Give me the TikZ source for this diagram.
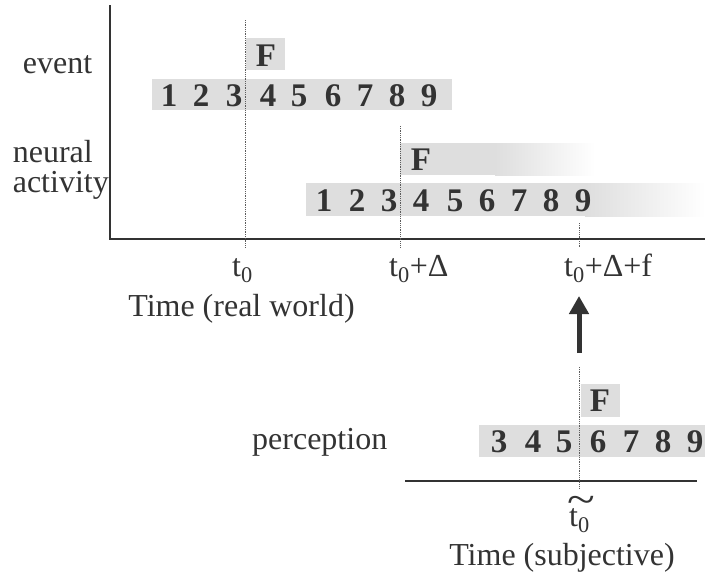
\documentclass[tikz,border=0pt]{standalone}
\usepackage{fontspec}
\setmainfont{Liberation Serif}
\usetikzlibrary{arrows.meta}
\definecolor{ink}{gray}{0.2}
\definecolor{band}{gray}{0.87}
\tikzset{
  lab/.style={font=\fontsize{32}{36}\selectfont, text=ink, inner sep=0pt},
  digit/.style={font=\fontsize{33}{36}\selectfont\bfseries, text=ink, inner sep=0pt, anchor=base},
  guide/.style={densely dotted, line width=0.8pt, draw=ink!80},
  axis/.style={line width=2.4pt, draw=ink},
}

\begin{document}
\begin{tikzpicture}[x=1pt,y=-1pt]
\useasboundingbox (0,0) rectangle (705,573);
\coordinate[] (Top) at (110,5);
\coordinate[] (O) at (110,239);
\coordinate[] (End) at (705,239);
\coordinate[] (T0a) at (245,20);
\coordinate[] (T0b) at (245,248);
\coordinate[] (TDa) at (400,126);
\coordinate[] (TDb) at (400,248);
\coordinate[] (TFa) at (579,223);
\coordinate[] (TFb) at (579,248);
\coordinate[] (ArrS) at (579,353);
\coordinate[] (ArrE) at (579,296);
\coordinate[] (Pa) at (579,367);
\coordinate[] (Pb) at (579,489);
\coordinate[] (Sa) at (405,481);
\coordinate[] (Sb) at (697,481);
% grey bands
\fill [band] (152,79) rectangle (452,110);
\fill [band] (246,38) rectangle (285,70);
\fill [band] (306,183) rectangle (585,216);
\shade [left color=band,right color=white] (585,183) rectangle (705,216);
\fill [band] (400,143) rectangle (495,175);
\shade [left color=band,right color=white] (495,143) rectangle (595,175);
\fill [band] (479,425) rectangle (705,457);
\fill [band] (581,384) rectangle (620,417);
% axes and guides
\draw [axis] (Top) -- (O) -- (End);
\draw [axis,line width=2pt] (Sa) -- (Sb);
\draw [guide] (T0a) -- (T0b);
\draw [guide] (TDa) -- (TDb);
\draw [guide] (TFa) -- (TFb);
\draw [guide] (Pa) -- (Pb);
\draw [line width=5pt,draw=ink,-{Triangle[width=19pt,length=18pt]}] (ArrS) -- (ArrE);
% rows
\node[digit] (evF) at (266,66) {F};
\foreach \d/\x in {1/169,2/201,3/234,4/268,5/299,6/333,7/365,8/397,9/429}
	\node[digit] (ev\d) at (\x,106) {\d};
\node[digit] (naF) at (421,170) {F};
\foreach \d/\x in {1/324,2/357,3/389,4/421,5/455,6/487,7/519,8/551,9/583}
	\node[digit] (na\d) at (\x,211) {\d};
\node[digit] (peF) at (600,411) {F};
\foreach \d/\x in {3/499,4/533,5/564,6/598,7/631,8/663,9/695}
	\node[digit] (pe\d) at (\x,452) {\d};
% labels
\node[lab,anchor=base] (event) at (57.5,73) {event};
\node[lab,anchor=base west] (neural) at (12.6,162) {neural};
\node[lab,anchor=base west] (activity) at (12.6,192) {activity};
\node[lab,anchor=base west] (perception) at (252,449) {perception};
\node[lab,anchor=base west] (t0) at (232,276) {t\textsubscript{0}};
\node[lab,anchor=base west] (t0D) at (389,276) {t\textsubscript{0}+Δ};
\node[lab,anchor=base west] (t0Df) at (564,276) {t\textsubscript{0}+Δ+f};
\node[lab,anchor=base] (real) at (241.5,316) {Time (real world)};
\node[lab,anchor=base west] (tt0) at (569,526)
	{\makebox[0pt][l]{\hspace{-2pt}\raisebox{0.38em}{\scalebox{1.6}[1.3]{\~{}}}}t\textsubscript{0}};
\node[lab,anchor=base] (subj) at (562,565) {Time (subjective)};
\end{tikzpicture}
\end{document}
